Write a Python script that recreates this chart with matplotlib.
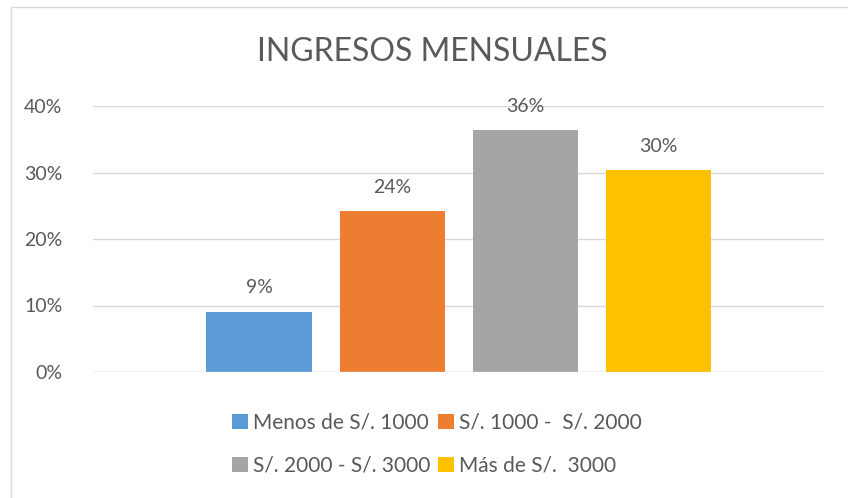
import matplotlib.pyplot as plt
from matplotlib.patches import Rectangle

plt.rcParams['font.family'] = ['Lato', 'DejaVu Sans']

series = ['Menos de S/. 1000', 'S/. 1000 -  S/. 2000', 'S/. 2000 - S/. 3000', 'Más de S/.  3000']
values = [3/33, 8/33, 12/33, 10/33]
labels = ['9%', '24%', '36%', '30%']
colors = ['#5B9BD5', '#ED7D31', '#A5A5A5', '#FFC000']
yticks = [0, 0.1, 0.2, 0.3, 0.4]
ytick_labels = ['0%', '10%', '20%', '30%', '40%']

txt = '#595959'
fig = plt.figure(figsize=(8.48, 4.98), dpi=100)
ax = fig.add_axes([93/848, 1-372/498, 731/848, 266/498])

step = 133/731
width = 105/731
bars = []
for i, (s, v, c) in enumerate(zip(series, values, colors)):
    b = ax.bar((i-1.5)*step, v, width=width, color=c, label=s, zorder=3)
    bars.append(b[0])
    ax.annotate(labels[i], (b[0].get_x()+width/2, v), xytext=(0, 11),
                textcoords='offset points', ha='center', va='bottom',
                fontsize=14, color=txt)

ax.set_xlim(-0.5, 0.5)
ax.set_ylim(0, 0.4)
ax.set_yticks(yticks)
ax.set_yticklabels(ytick_labels, fontsize=14, color=txt)
ax.set_xticks([])
ax.tick_params(axis='y', length=0, pad=22)
ax.grid(axis='y', color='#D9D9D9', linewidth=1, zorder=0)
for sp in ax.spines.values():
    sp.set_visible(False)
ax.axhline(0, color='#D9D9D9', linewidth=1, zorder=4)

fig.text(432/848, 1-52/498, 'INGRESOS MENSUALES', ha='center', va='center',
         fontsize=23, color=txt)

order = [0, 2, 1, 3]
fig.legend([bars[i] for i in order], [series[i] for i in order], ncol=2,
           loc='center', bbox_to_anchor=(437/848, 1-444/498), frameon=False,
           fontsize=15, labelcolor=txt, handlelength=0.75, handleheight=0.75,
           handletextpad=0.25, columnspacing=0.35, labelspacing=1.1)

fig.patches.append(Rectangle((11/848, -0.1), 1.2, 1-7/498+0.1, transform=fig.transFigure,
                             fill=False, edgecolor='#D9D9D9', linewidth=1))

fig.savefig('out.png', dpi=100)
